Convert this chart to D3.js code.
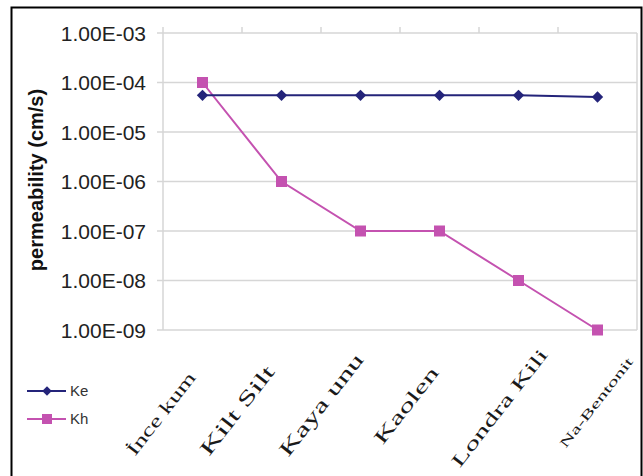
<!DOCTYPE html>
<html>
<head>
<meta charset="utf-8">
<script src="https://cdn.jsdelivr.net/npm/d3@7"></script>
<style>
  html, body { margin: 0; padding: 0; background: #fff; }
  svg { display: block; }
</style>
</head>
<body>
<svg id="chart" width="643" height="476"></svg>
<script>
const categories = ["İnce kum", "Kilt Silt", "Kaya unu", "Kaolen", "Londra Kili", "Na-Bentonit"];
const keValues = [5.5e-5, 5.5e-5, 5.5e-5, 5.5e-5, 5.5e-5, 5.1e-5];
const khValues = [1e-4, 1e-6, 1e-7, 1e-7, 1e-8, 1e-9];
const yTicks = [1e-3, 1e-4, 1e-5, 1e-6, 1e-7, 1e-8, 1e-9];
const seriesNames = ["Ke", "Kh"];

// layout of the (hand-set) category labels in the original
const labelDx = [-6, -6, 4, 0, 30, 36];
const labelY = [378, 372, 360, 373, 355, 362];
const labelSize = [18, 20, 20, 19, 18, 13];
const labelLen = [100, 108, 124, 92, 144, 110];

const svg = d3.select("#chart");
const plot = { left: 163, right: 637, top: 33, bottom: 330 };

svg.append("rect").attr("x", 11.5).attr("y", 7.5).attr("width", 630).attr("height", 480)
  .attr("fill", "none").attr("stroke", "#000").attr("stroke-width", 2);

const x = d3.scaleBand().domain(categories).range([plot.left, plot.right]);
const y = d3.scaleLog().domain([1e-9, 1e-3]).range([plot.bottom, plot.top]);

const grid = "#d6d6d6";
svg.append("g").selectAll("line").data(yTicks).join("line")
  .attr("x1", plot.left - 6).attr("x2", plot.right)
  .attr("y1", d => y(d)).attr("y2", d => y(d))
  .attr("stroke", grid).attr("stroke-width", 1.5);
svg.append("line").attr("x1", plot.left).attr("x2", plot.left)
  .attr("y1", plot.top - 6).attr("y2", plot.bottom).attr("stroke", grid).attr("stroke-width", 1.5);
svg.append("line").attr("x1", plot.right).attr("x2", plot.right)
  .attr("y1", plot.top).attr("y2", plot.bottom).attr("stroke", grid).attr("stroke-width", 1.5);
svg.append("g").selectAll("line").data(categories.slice(1)).join("line")
  .attr("x1", d => x(d)).attr("x2", d => x(d))
  .attr("y1", plot.top - 6).attr("y2", plot.top)
  .attr("stroke", grid).attr("stroke-width", 1.5);

const fmt = d => {
  const e = Math.round(Math.log10(d));
  return "1.00E-" + String(-e).padStart(2, "0");
};
svg.append("g").selectAll("text").data(yTicks).join("text")
  .attr("x", plot.left - 17).attr("y", d => y(d)).attr("dy", "0.36em")
  .attr("text-anchor", "end")
  .attr("font-family", "Liberation Sans, Arial, sans-serif")
  .attr("font-size", 21).attr("fill", "#222")
  .text(fmt);

svg.append("text")
  .attr("transform", "translate(43,180) rotate(-90)")
  .attr("text-anchor", "middle")
  .attr("font-family", "Liberation Sans, Arial, sans-serif")
  .attr("font-weight", "bold").attr("font-size", 20).attr("fill", "#111")
  .text("permeability (cm/s)");

const cx = d => x(d) + x.bandwidth() / 2;

svg.append("g").selectAll("text").data(categories).join("text")
  .attr("transform", (d, i) => `translate(${cx(d) + labelDx[i]},${labelY[i]}) rotate(-52)`)
  .attr("text-anchor", "end")
  .attr("font-family", "Liberation Serif, Times New Roman, serif")
  .attr("font-size", (d, i) => labelSize[i]).attr("fill", "#1a1a1a")
  .attr("textLength", (d, i) => labelLen[i]).attr("lengthAdjust", "spacingAndGlyphs")
  .text(d => d);

const keColor = "#24247a", khColor = "#c452b0";

const line = d3.line().x(d => cx(d.c)).y(d => y(d.v));
const keData = categories.map((c, i) => ({ c, v: keValues[i] }));
const khData = categories.map((c, i) => ({ c, v: khValues[i] }));

svg.append("path").datum(khData).attr("d", line)
  .attr("fill", "none").attr("stroke", khColor).attr("stroke-width", 2);
svg.append("path").datum(keData).attr("d", line)
  .attr("fill", "none").attr("stroke", keColor).attr("stroke-width", 2);

const diamond = d3.symbol().type(d3.symbolSquare).size(64);
svg.append("g").selectAll("path").data(keData).join("path")
  .attr("d", diamond())
  .attr("transform", d => `translate(${cx(d.c)},${y(d.v)}) rotate(45)`)
  .attr("fill", keColor);
svg.append("g").selectAll("rect").data(khData).join("rect")
  .attr("x", d => cx(d.c) - 5.5).attr("y", d => y(d.v) - 5.5)
  .attr("width", 11).attr("height", 11).attr("fill", khColor);

const legend = svg.append("g");
const legendItems = [
  { name: seriesNames[0], color: keColor, y: 391, shape: "diamond" },
  { name: seriesNames[1], color: khColor, y: 419, shape: "square" }
];
legendItems.forEach(it => {
  legend.append("line").attr("x1", 27).attr("x2", 66).attr("y1", it.y).attr("y2", it.y)
    .attr("stroke", it.color).attr("stroke-width", 2);
  if (it.shape === "diamond") {
    legend.append("path").attr("d", d3.symbol().type(d3.symbolSquare).size(45)())
      .attr("transform", `translate(47,${it.y}) rotate(45)`).attr("fill", it.color);
  } else {
    legend.append("rect").attr("x", 42).attr("y", it.y - 5).attr("width", 10).attr("height", 10)
      .attr("fill", it.color);
  }
  legend.append("text").attr("x", 70).attr("y", it.y).attr("dy", "0.36em")
    .attr("font-family", "Liberation Sans, Arial, sans-serif")
    .attr("font-size", 15).attr("fill", "#333").text(it.name);
});
</script>
</body>
</html>
